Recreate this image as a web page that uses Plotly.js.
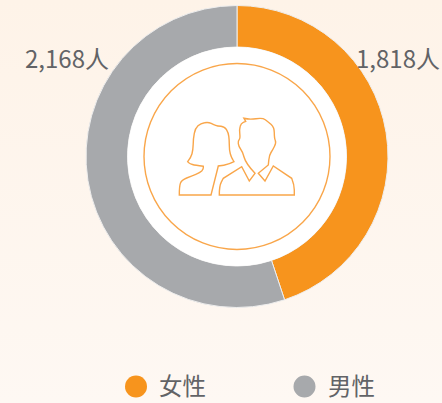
<!DOCTYPE html>
<html><head><meta charset="utf-8">
<script src="https://cdn.plot.ly/plotly-3.0.1.min.js"></script>
<style>
html,body{margin:0;padding:0;width:442px;height:403px;overflow:hidden;background:linear-gradient(180deg,#fef3e8 0%,#fef8f3 100%);}
#chart{width:442px;height:403px;}
</style></head><body><div id="chart"></div>
<script>
var categories = ['女性', '男性'];
var counts = [1818, 2168];
// Arc shares (%) as measured from the drawn ring; the source ring is not exactly proportional to its labels.
var arcShares = [44.9, 55.1];
var colors = ['#f7941d', '#a7a9ac'];
var unit = '人';

var W = 442, H = 403;
var cx = 237, cy = 156.5, R = 151, r = 109.5;
var fontFam = '"Noto Sans CJK SC","Noto Sans",sans-serif';
var textCol = '#626366';
var accent = '#f9a64a';

// Decorative icon outline: third element 1 marks a sharp corner, others are rounded.
function iconPath(pts) {
  var P = pts.map(function (p) { return [130 + p[0] / 3, 50 + p[1] / 3, p[2]]; });
  var n = P.length, f = function (v) { return v.toFixed(1); };
  var d = 'M' + f(P[0][0]) + ',' + f(P[0][1]);
  for (var i = 1; i < n; i++) {
    var a = P[i], b = P[(i + 1) % n];
    if (a[2]) d += ' L' + f(a[0]) + ',' + f(a[1]);
    else d += ' Q' + f(a[0]) + ',' + f(a[1]) + ' ' + f((a[0] + b[0]) / 2) + ',' + f((a[1] + b[1]) / 2);
  }
  return d + ' Z';
}
var woman = [[148,435,1],[148,408],[155,390],[185,378],[210,368],[220,358],[220,349,1],[195,346],[180,341],[173,335,1],[183,322],[189,300],[190,265],[196,235],[212,220],[235,216],[252,224],[262,228],[284,230],[295,248],[298,270],[298,300],[304,322],[312,335,1],[298,343],[265,348,1],[243,435,1]];
var man = [[268,435,1],[268,408],[280,385,1],[335,350,1],[358,393,1],[375,370,1],[347,340],[338,305],[326,290],[324,272],[331,265],[328,238],[333,220],[347,214,1],[342,205,1],[358,209],[398,203],[414,215],[433,232],[433,265],[439,278],[428,300],[418,315],[415,345,1],[385,370,1],[405,393,1],[430,348,1],[485,385,1],[493,405],[493,435,1]];

var shapes = [
  {type:'circle', xref:'x', yref:'y', x0:cx-r, x1:cx+r, y0:cy-r, y1:cy+r, fillcolor:'#ffffff', line:{width:0}},
  {type:'circle', xref:'x', yref:'y', x0:cx-93, x1:cx+93, y0:cy-93, y1:cy+93, line:{color:accent, width:1.4}},
  {type:'path', xref:'x', yref:'y', path:iconPath(woman), line:{color:accent, width:1.4}},
  {type:'path', xref:'x', yref:'y', path:iconPath(man), line:{color:accent, width:1.4}},
  {type:'circle', xref:'x', yref:'y', x0:125, x1:147, y0:375.5, y1:397.5, fillcolor:colors[0], line:{width:0}},
  {type:'circle', xref:'x', yref:'y', x0:293.5, x1:315.5, y0:375.5, y1:397.5, fillcolor:colors[1], line:{width:0}}
];

function fmt(v){ return v.toLocaleString('en-US') + unit; }
var annotations = [
  {x:111, y:57, size:24, text:fmt(counts[1]), xanchor:'right', yanchor:'middle'},
  {x:442, y:57.5, size:24, text:fmt(counts[0]), xanchor:'right', yanchor:'middle'},
  {x:157, y:385, size:23.5, text:categories[0], xanchor:'left', yanchor:'middle'},
  {x:325.5, y:385, size:23.5, text:categories[1], xanchor:'left', yanchor:'middle'}
].map(function(a){
  a.xref='x'; a.yref='y'; a.showarrow=false; a.font={family:fontFam,size:a.size,color:textCol}; delete a.size; return a;
});

var data = [{
  type:'pie', labels:categories, values:arcShares, hole:r/R, sort:false, direction:'clockwise', rotation:0,
  marker:{colors:colors, line:{color:'#eeeeee', width:1}}, textinfo:'none', hoverinfo:'label', showlegend:false,
  domain:{x:[(cx-R)/W,(cx+R)/W], y:[(H-cy-R)/H,(H-cy+R)/H]}
}];
var layout = {
  width:W, height:H, margin:{l:0,r:0,t:0,b:0,pad:0},
  paper_bgcolor:'rgba(0,0,0,0)', plot_bgcolor:'rgba(0,0,0,0)', showlegend:false,
  xaxis:{range:[0,W], visible:false, fixedrange:true},
  yaxis:{range:[H,0], visible:false, fixedrange:true},
  shapes:shapes, annotations:annotations
};
Plotly.newPlot('chart', data, layout, {displayModeBar:false, staticPlot:true});
</script></body></html>
